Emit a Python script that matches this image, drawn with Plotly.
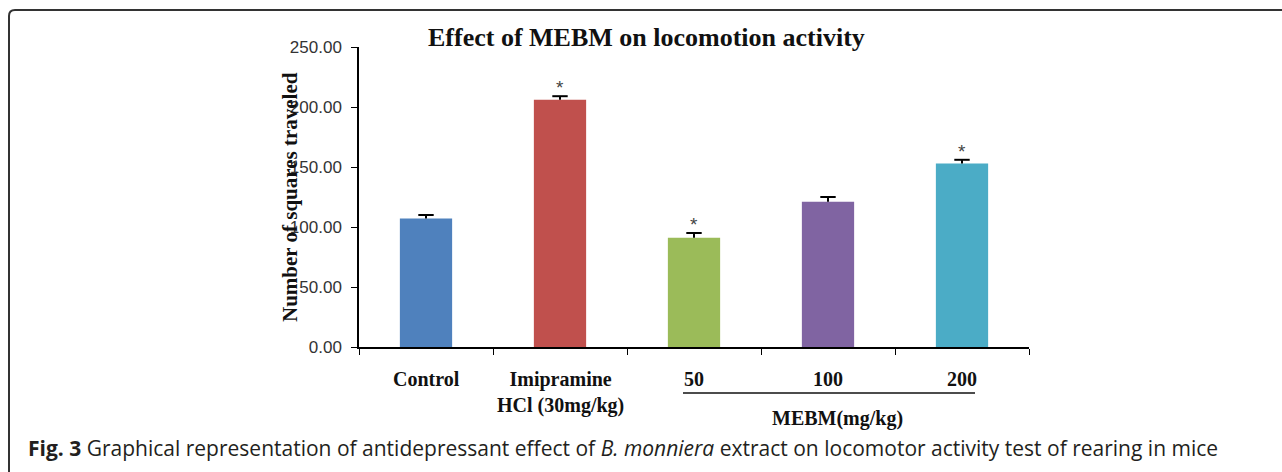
import plotly.graph_objects as go

# Data: locomotion (squares traveled) per treatment group
groups = ["Control", "Imipramine<br>HCl (30mg/kg)", "50", "100", "200"]
means = [107, 206, 91, 121, 153]
sems = [3, 3, 4, 4, 3]
stars = ["", "*", "*", "", "*"]
colors = ["#4F81BD", "#C0504D", "#9BBB59", "#8064A2", "#4BACC6"]
y_ticks = [0, 50, 100, 150, 200, 250]

W, H = 1282, 472
L, R, T, B = 359, 253, 47, 125
PW, PH = W - L - R, H - T - B


def px(x):
    return (x - L) / PW


def py(y):
    return (H - B - y) / PH


serif = "Liberation Serif, Times New Roman, serif"
sans = "Liberation Sans, Arial, sans-serif"

xs = list(range(len(groups)))
fig = go.Figure()
fig.add_trace(go.Bar(
    x=xs, y=means, width=0.39,
    marker=dict(color=colors, line=dict(width=0)),
    showlegend=False, hoverinfo="skip",
))

# upper-only error bars: a stem from the bar top and a cap at mean + SEM
stem_x, stem_y = [], []
for i in xs:
    stem_x += [i, i, None]
    stem_y += [means[i], means[i] + sems[i], None]
fig.add_trace(go.Scatter(x=stem_x, y=stem_y, mode="lines",
                         line=dict(color="black", width=2),
                         showlegend=False, hoverinfo="skip"))
fig.add_trace(go.Scatter(x=xs, y=[m + s for m, s in zip(means, sems)],
                         mode="markers",
                         marker=dict(symbol="line-ew", size=11,
                                     line=dict(color="black", width=2)),
                         showlegend=False, hoverinfo="skip"))

annotations = []
# significance markers above the error bars
for i, s in enumerate(stars):
    if s:
        annotations.append(dict(x=i, y=means[i] + sems[i], xref="x", yref="y",
                                text=s, showarrow=False, yanchor="bottom",
                                yshift=-4, font=dict(family=sans, size=19, color="#444")))

# category labels below the axis
for i, g in enumerate(groups):
    annotations.append(dict(x=i, y=py(366), xref="x", yref="paper", text=f"<b>{g}</b>",
                            showarrow=False, yanchor="top", align="center",
                            font=dict(family=serif, size=20, color="#111")))

annotations += [
    dict(x=px(837), y=py(418), xref="paper", yref="paper", text="<b>MEBM(mg/kg)</b>",
         xanchor="center", yanchor="middle",
         showarrow=False, font=dict(family=serif, size=20, color="#111")),
    dict(x=px(646), y=py(38), xref="paper", yref="paper",
         text="<b>Effect of MEBM on locomotion activity</b>",
         xanchor="center", yanchor="middle",
         showarrow=False, font=dict(family=serif, size=26, color="#111")),
    dict(x=px(290), y=py(197), xref="paper", yref="paper",
         text="<b>Number of squares traveled</b>", textangle=-90,
         xanchor="center", yanchor="middle",
         showarrow=False, font=dict(family=serif, size=21, color="#111")),
    dict(x=px(26), y=py(448), xref="paper", yref="paper",
         xanchor="left", yanchor="middle",
         text="<b>Fig. 3</b> Graphical representation of antidepressant effect of "
              "<i>B. monniera</i> extract on locomotor activity test of rearing in mice",
         showarrow=False, font=dict(family="Open Sans, sans-serif", size=21, color="#231f20")),
]

# underline grouping the extract doses, and the rounded figure frame
r = 6
frame = (f"M {px(9)},{py(472)} L {px(9)},{py(10 + r)} "
         f"Q {px(9)},{py(10)} {px(9 + r)},{py(10)} L {px(1282)},{py(10)}")
shapes = [
    dict(type="line", xref="paper", yref="paper", x0=px(683), x1=px(975),
         y0=py(393), y1=py(393), line=dict(color="#111", width=1.5)),
    dict(type="path", xref="paper", yref="paper", path=frame,
         line=dict(color="#333", width=2)),
]

fig.update_layout(
    width=W, height=H,
    margin=dict(l=L, r=R, t=T, b=B, pad=0),
    paper_bgcolor="white", plot_bgcolor="white",
    annotations=annotations, shapes=shapes,
    xaxis=dict(range=[-0.5, 4.5], tickmode="array",
               tickvals=[-0.5, 0.5, 1.5, 2.5, 3.5, 4.5],
               showticklabels=False, ticks="outside", ticklen=6,
               tickcolor="black", showline=True, linecolor="black",
               linewidth=1.5, showgrid=False, zeroline=False, fixedrange=True),
    yaxis=dict(range=[0, 250], tickvals=y_ticks, tickformat=".2f",
               ticks="outside", ticklen=6, tickcolor="black",
               ticklabelstandoff=6,
               showline=True, linecolor="black", linewidth=1.5,
               showgrid=False, zeroline=False,
               tickfont=dict(family=sans, size=17, color="#333")),
)

fig.write_html("out.html")
